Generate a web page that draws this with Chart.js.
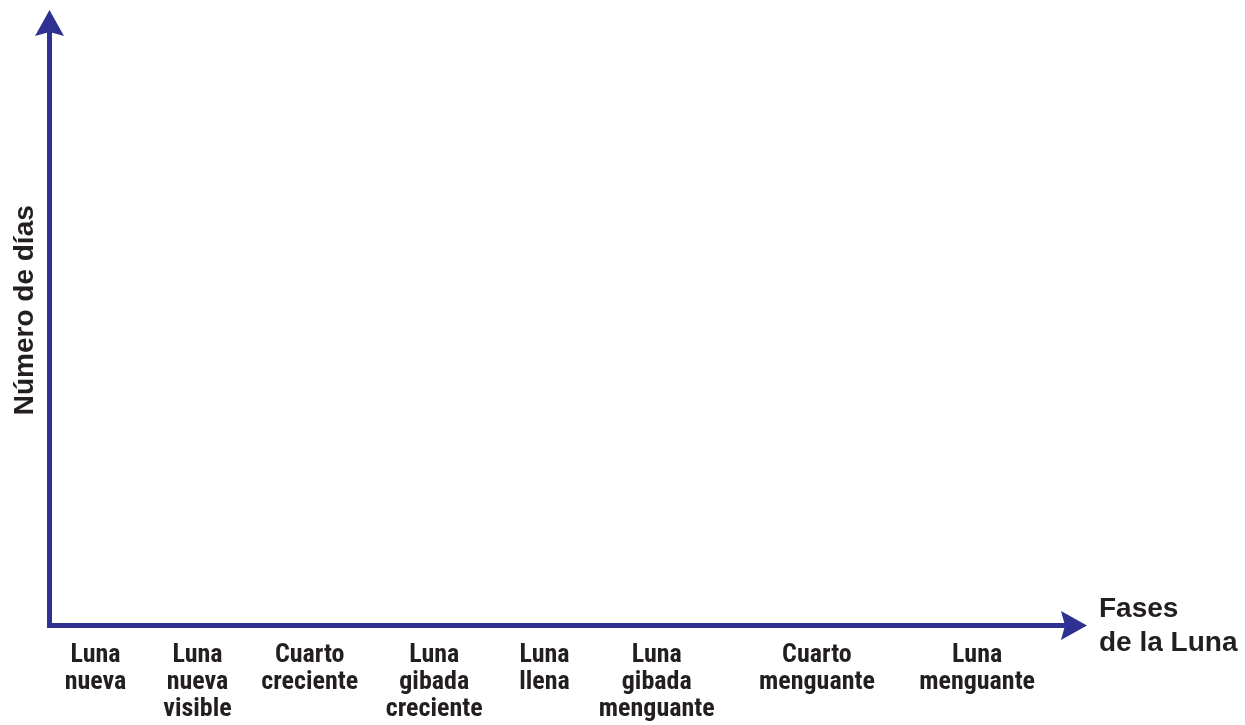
<!DOCTYPE html>
<html>
<head>
<meta charset="utf-8">
<script src="https://cdn.jsdelivr.net/npm/chart.js@4/dist/chart.umd.min.js"></script>
<style>
  html, body { margin: 0; padding: 0; background: #ffffff; }
  #wrap { width: 1245px; height: 725px; position: relative; }
</style>
</head>
<body>
<div id="wrap"><canvas id="c"></canvas></div>
<script>
// ---- Data (the template is empty: no day counts filled in) ----
const phases = [
  ["Luna", "nueva"],
  ["Luna", "nueva", "visible"],
  ["Cuarto", "creciente"],
  ["Luna", "gibada", "creciente"],
  ["Luna", "llena"],
  ["Luna", "gibada", "menguante"],
  ["Cuarto", "menguante"],
  ["Luna", "menguante"]
];
const dayCounts = [null, null, null, null, null, null, null, null];
// where each phase label sits along the horizontal axis (axis units 0..10)
const phaseTickValues = [0.45, 1.45, 2.55, 3.77, 4.85, 5.95, 7.52, 9.09];
const xAxisTitle = ["Fases", "de la Luna"];
const yAxisTitle = "Número de días";

// ---- Styles ----
const AXIS_BLUE = "#2e3192";
const TEXT = "#231f20";
const NARROW = "'Roboto Condensed', Roboto, 'Liberation Sans', sans-serif";
const WIDE = "'Liberation Sans', Arial, sans-serif";

const arrowPlugin = {
  id: "arrows",
  afterDraw(chart) {
    const ctx = chart.ctx;
    const a = chart.chartArea;
    const x0 = chart.scales.y.right;      // vertical axis line
    const y0 = chart.scales.x.top;        // horizontal axis line
    ctx.save();
    ctx.fillStyle = AXIS_BLUE;
    // up arrow
    const tipY = a.top - 17;
    ctx.beginPath();
    ctx.moveTo(x0, tipY);
    ctx.lineTo(x0 + 14.5, tipY + 26);
    ctx.lineTo(x0, tipY + 22);
    ctx.lineTo(x0 - 14.5, tipY + 26);
    ctx.closePath();
    ctx.fill();
    // right arrow
    const tipX = a.right + 17;
    ctx.beginPath();
    ctx.moveTo(tipX, y0);
    ctx.lineTo(tipX - 26, y0 - 14.5);
    ctx.lineTo(tipX - 22, y0);
    ctx.lineTo(tipX - 26, y0 + 14.5);
    ctx.closePath();
    ctx.fill();
    ctx.fillStyle = TEXT;
    // x-axis title at the arrow end
    ctx.font = "bold 28px " + WIDE;
    ctx.textAlign = "left";
    ctx.textBaseline = "alphabetic";
    ctx.fillText(xAxisTitle[0], tipX + 12, y0 - 9);
    ctx.fillText(xAxisTitle[1], tipX + 12, y0 + 25);
    // y-axis title, rotated, beside the vertical axis
    ctx.save();
    ctx.translate(x0 - 24, a.top + (y0 - a.top) / 2 - 16);
    ctx.rotate(-Math.PI / 2);
    ctx.textAlign = "center";
    ctx.textBaseline = "middle";
    ctx.font = "bold 28px " + WIDE;
    ctx.fillText(yAxisTitle, 0, 0);
    ctx.restore();
    ctx.restore();
  }
};

new Chart(document.getElementById("c"), {
  type: "line",
  data: {
    datasets: [{
      label: yAxisTitle,
      data: dayCounts.map((v, i) => ({ x: phaseTickValues[i], y: v })),
      borderColor: AXIS_BLUE,
      pointRadius: 0
    }]
  },
  options: {
    responsive: true,
    maintainAspectRatio: false,
    animation: false,
    layout: { padding: { left: 0, top: 27, right: 175, bottom: 0 } },
    plugins: { legend: { display: false }, tooltip: { enabled: false } },
    scales: {
      x: {
        type: "linear",
        min: 0,
        max: 10,
        grid: { display: false, drawTicks: false },
        border: { display: true, color: AXIS_BLUE, width: 5 },
        afterBuildTicks(scale) {
          scale.ticks = phaseTickValues.map(v => ({ value: v }));
        },
        afterFit(scale) { scale.height = 99.5; },
        ticks: {
          autoSkip: false,
          maxRotation: 0,
          minRotation: 0,
          padding: 16,
          color: TEXT,
          font: { family: NARROW, size: 26, weight: "bold", lineHeight: 1.04 },
          callback(value, index) { return phases[index]; }
        }
      },
      y: {
        type: "linear",
        min: 0,
        max: 10,
        grid: { display: false, drawTicks: false },
        border: { display: true, color: AXIS_BLUE, width: 5 },
        ticks: { display: false },
        afterFit(scale) { scale.width = 49.5; }
      }
    }
  },
  plugins: [arrowPlugin]
});
</script>
</body>
</html>
